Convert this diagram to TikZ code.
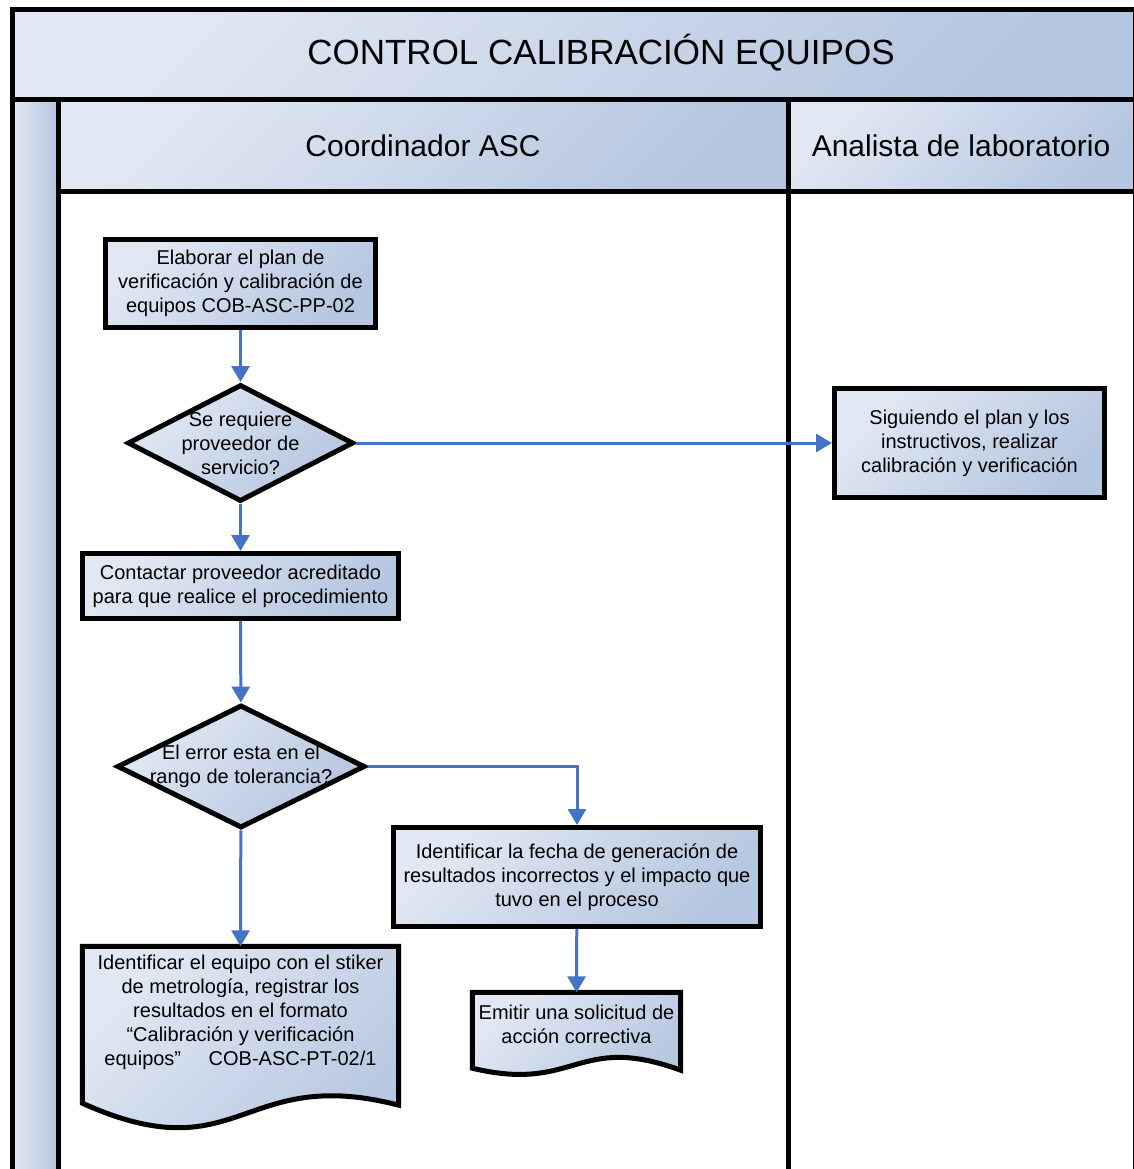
\documentclass[tikz,border=0pt]{standalone}
\usepackage{fontspec}
\setmainfont{Liberation Sans}
\usetikzlibrary{shapes.geometric, arrows.meta, calc}
\definecolor{lanelight}{HTML}{E1E8F3}
\definecolor{lanedark}{HTML}{B5C6E0}
\definecolor{flowblue}{HTML}{4472C4}

\begin{document}
\begin{tikzpicture}[x = 1pt, y = -1pt,
                      band/.style = {top color = lanelight, bottom color = lanedark, shading angle = 45},
                      frame/.style = {line width = 5pt},
                      proc/.style = {rectangle, draw, line width = 5pt, band, align = center,
                                     font = \fontsize{20}{24}\selectfont, inner sep = 2pt},
                      decision/.style = {diamond, draw, line width = 5pt, band, inner sep = 0pt},
                      doctext/.style = {rectangle, align = center, font = \fontsize{20}{24}\selectfont, inner sep = 2pt},
                      docshape/.style = {draw, line width = 5pt, band},
                      flow/.style = {draw = flowblue, line width = 3pt, -{Triangle[width = 18pt, length = 16pt]}}]
    \useasboundingbox (0, 0) rectangle (1133, 1169);

    % pool and lanes
    \path [band] (12, 10) rectangle (1140, 100);
    \path [left color = lanelight, right color = lanedark] (12, 100) rectangle (58, 1180);
    \path [band] (58, 100) rectangle (788, 192);
    \path [band] (788, 100) rectangle (1140, 192);
    \draw [frame] (12, 1180) -- (12, 10) -- (1135, 10) -- (1135, 1180);
    \draw [frame] (12, 100) -- (1135, 100);
    \draw [frame] (58, 192) -- (1135, 192);
    \draw [frame] (58, 100) -- (58, 1180);
    \draw [frame] (788, 100) -- (788, 1180);

    \node [font = \fontsize{35}{40}\selectfont] (title) at (601, 53) {CONTROL CALIBRACIÓN EQUIPOS};
    \node [font = \fontsize{30}{34}\selectfont] (lane1) at (423, 146) {Coordinador ASC};
    \node [font = \fontsize{30}{34}\selectfont] (lane2) at (961, 146) {Analista de laboratorio};

    % steps
    \node [proc, minimum width = 270pt, minimum height = 88pt] (plan) at (240.5, 283.5)
          {Elaborar el plan de\\verificación y calibración de\\equipos COB-ASC-PP-02};
    \node [decision, minimum width = 226pt, minimum height = 117pt,
           label = {[doctext]center:Se requiere\\proveedor de\\servicio?}] (prov) at (240.5, 443) {};
    \node [proc, minimum width = 270pt, minimum height = 109pt] (calib) at (969.5, 443)
          {Siguiendo el plan y los\\instructivos, realizar\\calibración y verificación};
    \node [proc, minimum width = 316pt, minimum height = 65pt] (contact) at (240.5, 586)
          {Contactar proveedor acreditado\\para que realice el procedimiento};
    \node [decision, minimum width = 248pt, minimum height = 123pt,
           label = {[doctext]center:El error esta en el\\rango de tolerancia?}] (toler) at (241, 766.5) {};
    \node [proc, minimum width = 367pt, minimum height = 99pt] (fecha) at (577, 877)
          {Identificar la fecha de generación de\\resultados incorrectos y el impacto que\\tuvo en el proceso};

    \node [doctext, minimum width = 208pt, minimum height = 63pt] (emit) at (576.5, 1024) {};
    \path [docshape] (emit.north west) -- (emit.north east) -- ($(emit.south east) + (0, 14.5)$)
          .. controls ($(emit.south) + (0, -23.5)$) and ($(emit.south) + (0, 37.5)$) ..
          ($(emit.south west) + (0, 12.5)$) -- cycle;
    \node [doctext] at (emit) {Emitir una solicitud de\\acción correctiva};

    \node [doctext, minimum width = 316pt, minimum height = 131pt] (equipo) at (240.5, 1012) {};
    \path [docshape] (equipo.north west) -- (equipo.north east) -- ($(equipo.south east) + (0, 27.5)$)
          .. controls ($(equipo.south) + (0, -13.5)$) and ($(equipo.south) + (0, 96.5)$) ..
          ($(equipo.south west) + (0, 25.5)$) -- cycle;
    \node [doctext] at (equipo) {Identificar el equipo con el stiker\\de metrología, registrar los\\resultados en el formato\\“Calibración y verificación\\equipos”\hspace{1.1em} COB-ASC-PT-02/1};

    \draw [flow] (plan) -- (prov);
    \draw [flow] (prov) -- (calib);
    \draw [flow] (prov) -- (contact);
    \draw [flow] (contact) -- (toler);
    \draw [flow] (toler.east) -| (fecha.north);
    \draw [flow] (toler) -- (equipo.north);
    \draw [flow] (fecha) -- (emit.north);
\end{tikzpicture}
\end{document}
